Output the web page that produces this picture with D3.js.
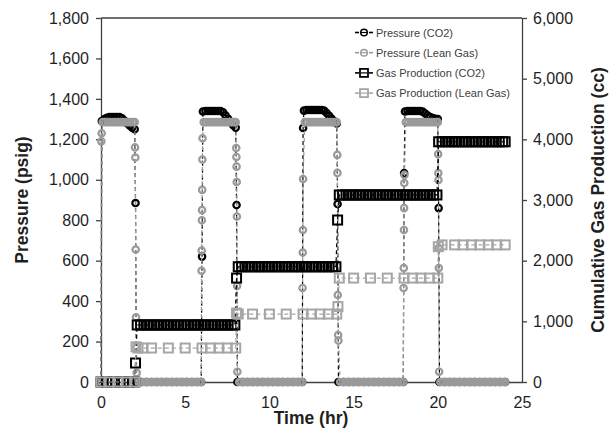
<!DOCTYPE html>
<html>
<head>
<meta charset="utf-8">
<script src="https://cdn.jsdelivr.net/npm/d3@7"></script>
<style>
body { margin:0; background:#fff; }
svg { display:block; font-family:"Liberation Sans", Arial, sans-serif; }
</style>
</head>
<body>
<svg id="svg" width="616" height="433"></svg>
<script>
// pressure readings [hr, psig]
const pressureCO2 = [
[0,0],[0.05,1290],[0.2,1300],[0.35,1306],[0.5,1310],[0.65,1310],[0.8,1310],[0.95,1310],[1.1,1310],[1.25,1304],[1.4,1292],[1.55,1280],[1.7,1268],[1.85,1258],[2.0,1250],[2.05,885],
[2.1,0],[2.4,0],[2.7,0],[3.0,0],[3.3,0],[3.6,0],[3.9,0],[4.2,0],[4.5,0],[4.8,0],[5.1,0],[5.4,0],[5.7,0],[5.95,0],
[6.0,620],[6.05,1338],[6.2,1340],[6.35,1340],[6.5,1340],[6.65,1340],[6.8,1340],[6.95,1340],[7.1,1340],[7.25,1334],[7.4,1318],[7.55,1302],[7.7,1285],[7.85,1270],[8.0,1258],[8.05,875],
[8.1,0],[8.4,0],[8.7,0],[9.0,0],[9.3,0],[9.6,0],[9.9,0],[10.2,0],[10.5,0],[10.8,0],[11.1,0],[11.4,0],[11.7,0],[11.95,0],
[12.0,1256],[12.05,1342],[12.2,1345],[12.35,1345],[12.5,1345],[12.65,1345],[12.8,1345],[12.95,1345],[13.1,1345],[13.25,1342],[13.4,1330],[13.55,1316],[13.7,1302],[13.85,1289],[14.0,1278],[14.05,880],
[14.1,0],[14.4,0],[14.7,0],[15.0,0],[15.3,0],[15.6,0],[15.9,0],[16.2,0],[16.5,0],[16.8,0],[17.1,0],[17.4,0],[17.7,0],[17.95,0],
[18.0,1033],[18.05,1338],[18.2,1340],[18.35,1340],[18.5,1340],[18.65,1340],[18.8,1340],[18.95,1340],[19.1,1337],[19.25,1328],[19.4,1318],[19.55,1310],[19.7,1305],[19.85,1302],[20.0,1300],[20.05,860],
[20.1,0],[20.4,0],[20.7,0],[21.0,0],[21.3,0],[21.6,0],[21.9,0],[22.2,0],[22.5,0],[22.8,0],[23.1,0],[23.4,0],[23.7,0],[24.0,0]
];

const pressureLean = [
[0,0],[0.02,1190],[0.04,1230],
[0.1,1285],[0.25,1285],[0.4,1285],[0.55,1285],[0.7,1285],[0.85,1285],[1.0,1285],[1.15,1285],[1.3,1285],[1.45,1285],[1.6,1285],[1.75,1285],[1.9,1285],[2.0,1285],
[2.02,1160],[2.04,1110],[2.06,655],[2.08,320],[2.1,170],[2.12,45],
[2.2,0],[2.35,0],[2.5,0],[2.65,0],[2.8,0],[2.95,0],[3.1,0],[3.25,0],[3.4,0],[3.55,0],[3.7,0],[3.85,0],[4.0,0],[4.15,0],[4.3,0],[4.45,0],[4.6,0],[4.75,0],[4.9,0],[5.05,0],[5.2,0],[5.35,0],[5.5,0],[5.65,0],[5.8,0],[5.95,0],
[5.97,550],[5.98,650],[5.99,800],[6.0,850],[6.01,950],[6.02,1100],[6.03,1205],
[6.1,1285],[6.25,1285],[6.4,1285],[6.55,1285],[6.7,1285],[6.85,1285],[7.0,1285],[7.15,1285],[7.3,1285],[7.45,1285],[7.6,1285],[7.75,1285],[7.9,1285],[8.0,1285],
[8.03,1157],[8.04,1113],[8.05,1065],[8.06,989],[8.07,818],[8.08,475],[8.1,51],
[8.2,0],[8.35,0],[8.5,0],[8.65,0],[8.8,0],[8.95,0],[9.1,0],[9.25,0],[9.4,0],[9.55,0],[9.7,0],[9.85,0],[10.0,0],[10.15,0],[10.3,0],[10.45,0],[10.6,0],[10.75,0],[10.9,0],[11.05,0],[11.2,0],[11.35,0],[11.5,0],[11.65,0],[11.8,0],[11.95,0],
[11.97,465],[11.98,640],[11.99,752],[12.0,1004],
[12.1,1285],[12.25,1285],[12.4,1285],[12.55,1285],[12.7,1285],[12.85,1285],[13.0,1285],[13.15,1285],[13.3,1285],[13.45,1285],[13.6,1285],[13.75,1285],[13.9,1285],[14.0,1285],
[14.03,1123],[14.04,1034],[14.06,430],[14.08,232],[14.1,205],
[14.2,0],[14.35,0],[14.5,0],[14.65,0],[14.8,0],[14.95,0],[15.1,0],[15.25,0],[15.4,0],[15.55,0],[15.7,0],[15.85,0],[16.0,0],[16.15,0],[16.3,0],[16.45,0],[16.6,0],[16.75,0],[16.9,0],[17.05,0],[17.2,0],[17.35,0],[17.5,0],[17.65,0],[17.8,0],[17.95,0],
[17.97,465],[17.98,564],[17.99,752],[18.0,860],[18.01,984],[18.02,1024],
[18.1,1285],[18.25,1285],[18.4,1285],[18.55,1285],[18.7,1285],[18.85,1285],[19.0,1285],[19.15,1285],[19.3,1285],[19.45,1285],[19.6,1285],[19.75,1285],[19.9,1285],[20.0,1285],
[20.02,1127],[20.03,1033],[20.04,999],[20.05,663],[20.06,564],[20.08,51],
[20.15,0],[20.3,0],[20.45,0],[20.6,0],[20.75,0],[20.9,0],[21.05,0],[21.2,0],[21.35,0],[21.5,0],[21.65,0],[21.8,0],[21.95,0],[22.1,0],[22.25,0],[22.4,0],[22.55,0],[22.7,0],[22.85,0],[23.0,0],[23.15,0],[23.3,0],[23.45,0],[23.6,0],[23.75,0],[23.9,0],[24.0,0]
];

// cumulative gas production [hr, cc]
const productionCO2 = [
[0,0],[0.33,0],[0.67,0],[1.0,0],[1.33,0],[1.67,0],[2.0,0],[2.05,313],
[2.15,940],[2.35,940],[2.55,940],[2.75,940],[2.95,940],[3.15,940],[3.35,940],[3.55,940],[3.75,940],[3.95,940],[4.15,940],[4.35,940],[4.55,940],[4.75,940],[4.95,940],[5.15,940],[5.35,940],[5.55,940],[5.75,940],[5.95,940],[6.15,940],[6.35,940],[6.55,940],[6.75,940],[6.95,940],[7.15,940],[7.35,940],[7.55,940],[7.75,940],[7.95,940],
[8.05,1713],
[8.15,1900],[8.35,1900],[8.55,1900],[8.75,1900],[8.95,1900],[9.15,1900],[9.35,1900],[9.55,1900],[9.75,1900],[9.95,1900],[10.15,1900],[10.35,1900],[10.55,1900],[10.75,1900],[10.95,1900],[11.15,1900],[11.35,1900],[11.55,1900],[11.75,1900],[11.95,1900],[12.15,1900],[12.35,1900],[12.55,1900],[12.75,1900],[12.95,1900],[13.15,1900],[13.35,1900],[13.55,1900],[13.75,1900],[13.95,1900],
[14.05,2670],
[14.15,3083],[14.35,3083],[14.55,3083],[14.75,3083],[14.95,3083],[15.15,3083],[15.35,3083],[15.55,3083],[15.75,3083],[15.95,3083],[16.15,3083],[16.35,3083],[16.55,3083],[16.75,3083],[16.95,3083],[17.15,3083],[17.35,3083],[17.55,3083],[17.75,3083],[17.95,3083],[18.15,3083],[18.35,3083],[18.55,3083],[18.75,3083],[18.95,3083],[19.15,3083],[19.35,3083],[19.55,3083],[19.75,3083],[19.95,3083],
[20.05,3960],[20.25,3960],[20.45,3960],[20.65,3960],[20.85,3960],[21.05,3960],[21.25,3960],[21.45,3960],[21.65,3960],[21.85,3960],[22.05,3960],[22.25,3960],[22.45,3960],[22.65,3960],[22.85,3960],[23.05,3960],[23.25,3960],[23.45,3960],[23.65,3960],[23.85,3960],[24.0,3960]
];

const productionLean = [
[0,0],[0.5,0],[1.0,0],[1.5,0],[2.0,0],[2.08,580],
[2.2,560],[2.5,560],[3.0,560],[4.0,560],[5.0,560],[6.0,560],[6.5,560],[7.0,560],[7.5,560],[8.0,560],
[8.05,1137],[8.15,1120],[9.0,1120],[10.0,1120],[11.0,1120],[12.0,1120],[12.5,1120],[13.0,1120],[13.5,1120],[14.0,1120],
[14.07,1243],[14.15,1713],[15.0,1713],[16.0,1713],[17.0,1713],[18.0,1713],[18.5,1713],[19.0,1713],[19.5,1713],[20.0,1713],
[20.03,2230],[20.25,2260],[21.0,2260],[21.5,2260],[22.0,2260],[22.5,2260],[23.0,2260],[23.5,2260],[24.0,2260]
];

const timeTicks = [0,5,10,15,20,25];
const pressureTicks = [0,200,400,600,800,1000,1200,1400,1600,1800];
const productionTicks = [0,1000,2000,3000,4000,5000,6000];
const seriesNames = ["Pressure (CO2)","Pressure (Lean Gas)","Gas Production (CO2)","Gas Production (Lean Gas)"];

const svg = d3.select("#svg");
const x = d3.scaleLinear().domain([0,25]).range([101,522]);
const yP = d3.scaleLinear().domain([0,1800]).range([382,18]);
const yG = d3.scaleLinear().domain([0,6000]).range([382,18]);

const axisCol = "#404040";
const textCol = "#1f1f1f";

// axes
const gx = svg.append("g").attr("transform","translate(0,382)")
    .call(d3.axisBottom(x).tickValues(timeTicks).tickSize(0).tickPadding(15).tickSizeOuter(0));
const gl = svg.append("g").attr("transform","translate(101,0)")
    .call(d3.axisLeft(yP).tickValues(pressureTicks).tickFormat(d3.format(",")).tickSize(5).tickPadding(7).tickSizeOuter(0));
const gr = svg.append("g").attr("transform","translate(522,0)")
    .call(d3.axisRight(yG).tickValues(productionTicks).tickFormat(d3.format(",")).tickSize(5).tickPadding(6).tickSizeOuter(0));
[gx,gl,gr].forEach(g => {
    g.select(".domain").attr("stroke",axisCol).attr("stroke-width",1.3);
    g.selectAll(".tick line").attr("stroke",axisCol).attr("stroke-width",1.3);
    g.selectAll("text").style("font-size","16px").attr("fill",textCol).style("font-family","'Liberation Sans', Arial, sans-serif");
});
svg.append("line").attr("x1",101).attr("x2",522).attr("y1",18).attr("y2",18).attr("stroke",axisCol).attr("stroke-width",1.3);

// titles
svg.append("text").attr("transform","translate(28,200) rotate(-90)").attr("text-anchor","middle")
    .style("font-size","17.5px").style("font-weight","bold").attr("fill",textCol).text("Pressure (psig)");
svg.append("text").attr("transform","translate(604,200) rotate(-90)").attr("text-anchor","middle")
    .style("font-size","17.5px").style("font-weight","bold").attr("fill",textCol).text("Cumulative Gas Production (cc)");
svg.append("text").attr("x",311).attr("y",424).attr("text-anchor","middle")
    .style("font-size","17.5px").style("font-weight","bold").attr("fill",textCol).text("Time (hr)");

// series
const series = [
    {data:pressureCO2, y:yP, col:"#000000", shape:"circle"},
    {data:pressureLean, y:yP, col:"#9a9a9a", shape:"circle"},
    {data:productionCO2, y:yG, col:"#000000", shape:"square"},
    {data:productionLean, y:yG, col:"#a6a6a6", shape:"square"}
];

const plot = svg.append("g");
series.forEach(s => {
    const line = d3.line().x(d => x(d[0])).y(d => s.y(d[1]));
    plot.append("path").attr("d",line(s.data)).attr("fill","none")
        .attr("stroke",s.col).attr("stroke-width",1.2).attr("stroke-dasharray","4,3");
    if (s.shape == "circle") {
        plot.append("g").selectAll("circle").data(s.data).join("circle")
            .attr("cx",d => x(d[0])).attr("cy",d => s.y(d[1])).attr("r",3.2)
            .attr("fill","none").attr("stroke",s.col).attr("stroke-width",2.2);
    } else {
        plot.append("g").selectAll("rect").data(s.data).join("rect")
            .attr("x",d => x(d[0])-4.5).attr("y",d => s.y(d[1])-4.5).attr("width",9).attr("height",9)
            .attr("fill","none").attr("stroke",s.col).attr("stroke-width",2);
    }
});

// legend: short dash, marker with the line through it, short dash
const leg = svg.append("g");
series.forEach((s,i) => {
    const ly = 32.5 + i*20.2;
    leg.append("line").attr("x1",355).attr("x2",359).attr("y1",ly).attr("y2",ly).attr("stroke",s.col).attr("stroke-width",1.6);
    leg.append("line").attr("x1",369).attr("x2",373).attr("y1",ly).attr("y2",ly).attr("stroke",s.col).attr("stroke-width",1.6);
    leg.append("line").attr("x1",361).attr("x2",367).attr("y1",ly).attr("y2",ly).attr("stroke",s.col).attr("stroke-width",1.2);
    if (s.shape == "circle") {
        leg.append("circle").attr("cx",364).attr("cy",ly).attr("r",3.3).attr("fill","none").attr("stroke",s.col).attr("stroke-width",1.5);
    } else {
        leg.append("rect").attr("x",360).attr("y",ly-4).attr("width",8).attr("height",8).attr("fill","none").attr("stroke",s.col).attr("stroke-width",1.8);
    }
    leg.append("text").attr("x",376).attr("y",ly+4).style("font-size","11px").attr("fill","#404040").text(seriesNames[i]);
});
</script>
</body>
</html>
